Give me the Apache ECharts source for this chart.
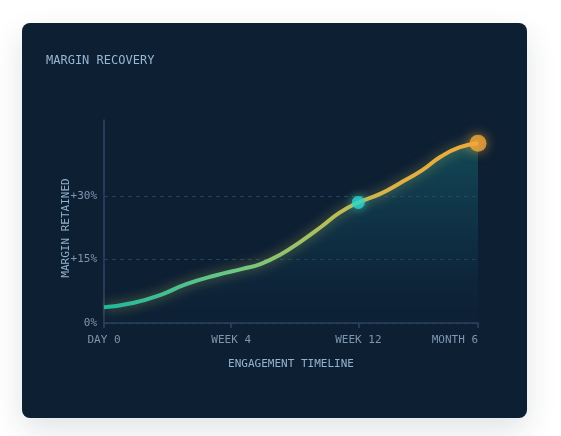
<!DOCTYPE html>
<html lang="en">
<head>
    <meta charset="UTF-8">
    <title>Margin Recovery</title>
    <script src="https://cdn.jsdelivr.net/npm/echarts@6/dist/echarts.min.js"></script>
    <style>
        html, body { margin: 0; padding: 0; background: #ffffff; }
        #card {
            position: absolute; left: 22px; top: 23px;
            width: 505px; height: 395px;
            background: #0d1f33; border-radius: 8px;
            box-shadow: 0 12px 30px rgba(20, 35, 55, 0.13);
            overflow: hidden;
        }
        #main { width: 505px; height: 395px; }
    </style>
</head>
<body>
<div id="card"><div id="main"></div></div>
<script>
    // timeline position (0 = day 0, 100 = month 6) and margin retained in %
    var timeX = [0, 8, 15, 22, 30, 37, 42, 47, 52.5, 58, 63, 68, 74, 79, 85, 90, 95, 100];
    var marginPct = [3.7, 4.8, 6.6, 9.2, 11.3, 12.8, 14.0, 16.1, 19.2, 22.7, 26.1, 28.5, 30.6, 33, 36.1, 39.3, 41.5, 42.5];
    var tickX = [0, 34, 68, 100];
    var tickLabels = ['DAY 0', 'WEEK 4', 'WEEK 12', 'MONTH 6'];
    var tickY = [0, 15, 30];
    var yLabels = ['0%', '+15%', '+30%'];
    var week12Index = 11;
    var month6Index = 17;

    var mono = 'DejaVu Sans Mono';
    var linePts = timeX.map(function (x, i) { return [x, marginPct[i]]; });

    var myChart = echarts.init(document.getElementById('main'));
    var option = {
        backgroundColor: 'transparent',
        animation: false,
        title: {
            text: 'MARGIN RECOVERY',
            left: 19, top: 27,
            textStyle: { fontFamily: mono, fontSize: 12, fontWeight: 'normal', color: '#98b7d2' }
        },
        grid: { left: 82, right: 49, top: 97, bottom: 95 },
        xAxis: {
            type: 'value',
            min: 0, max: 100,
            name: 'ENGAGEMENT TIMELINE',
            nameLocation: 'middle',
            nameGap: 36,
            nameMoveOverlap: false,
            nameTextStyle: { fontFamily: mono, fontSize: 11, color: '#93b2cc' },
            axisLine: { show: true, lineStyle: { color: '#2b4660', width: 1.5 } },
            axisTick: { show: true, length: 5, customValues: tickX, lineStyle: { color: '#2b4660', width: 1.5 } },
            axisLabel: {
                customValues: tickX,
                margin: 12,
                alignMaxLabel: 'right',
                fontFamily: mono, fontSize: 11, color: '#7d96ae',
                formatter: function (v) { return tickLabels[tickX.indexOf(v)]; }
            },
            splitLine: { show: false }
        },
        yAxis: {
            type: 'value',
            min: 0, max: 48,
            name: 'MARGIN RETAINED',
            nameLocation: 'middle',
            nameRotate: 90,
            nameGap: 32,
            nameMoveOverlap: false,
            nameTextStyle: { fontFamily: mono, fontSize: 11, color: '#93b2cc', padding: [0, 13, 0, 0] },
            axisLine: { show: true, lineStyle: { color: '#2b4660', width: 1.5 } },
            axisTick: { show: false, customValues: tickY },
            axisLabel: {
                customValues: tickY,
                margin: 7,
                fontFamily: mono, fontSize: 11, color: '#7d96ae',
                formatter: function (v) { return yLabels[tickY.indexOf(v)]; }
            },
            splitLine: {
                show: true,
                lineStyle: { color: '#263f58', type: [4, 4], width: 1 }
            }
        },
        series: [
            {
                type: 'line',
                data: linePts,
                smooth: 0.5,
                showSymbol: false,
                lineStyle: {
                    width: 4,
                    color: new echarts.graphic.LinearGradient(0, 0, 1, 0, [
                        { offset: 0, color: '#1fb79b' },
                        { offset: 0.35, color: '#6cc784' },
                        { offset: 0.6, color: '#b7bf57' },
                        { offset: 0.8, color: '#e0b044' },
                        { offset: 1, color: '#f2a93a' }
                    ]),
                    shadowBlur: 12,
                    shadowColor: 'rgba(200, 200, 90, 0.55)'
                },
                areaStyle: {
                    color: new echarts.graphic.LinearGradient(0, 0, 0, 1, [
                        { offset: 0, color: 'rgba(24, 112, 118, 0.75)' },
                        { offset: 0.5, color: 'rgba(20, 80, 100, 0.5)' },
                        { offset: 1, color: 'rgba(14, 40, 62, 0.2)' }
                    ])
                },
                z: 2
            },
            {
                type: 'scatter',
                data: [
                    { value: linePts[week12Index], symbolSize: 13, itemStyle: { color: '#2fd6cb', shadowBlur: 10, shadowColor: 'rgba(47, 214, 203, 0.8)' } },
                    { value: linePts[month6Index], symbolSize: 17, itemStyle: { color: '#f2a83a', shadowBlur: 12, shadowColor: 'rgba(242, 168, 58, 0.8)' } }
                ],
                z: 3
            }
        ]
    };
    myChart.setOption(option);
</script>
</body>
</html>
